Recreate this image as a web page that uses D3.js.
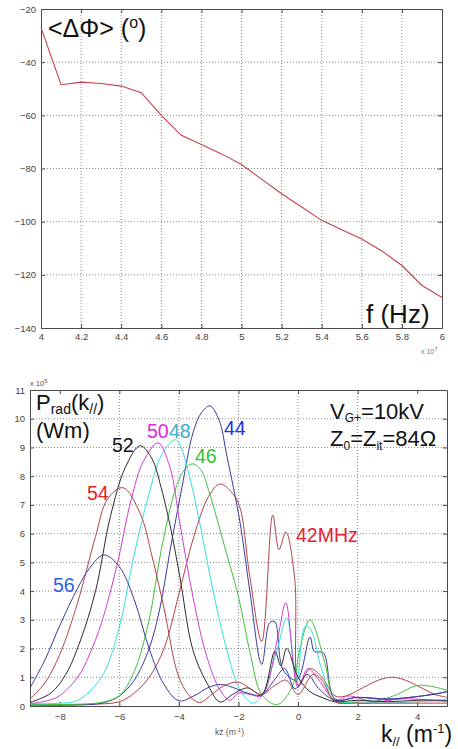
<!DOCTYPE html>
<html>
<head>
<meta charset="utf-8">
<script src="https://cdn.jsdelivr.net/npm/d3@7"></script>
<style>
  body { margin: 0; background: #fff; }
  svg { display: block; font-family: "Liberation Sans", Arial, sans-serif; }
  .tick text { fill: #444; }
</style>
</head>
<body>
<svg id="chart" width="458" height="749"></svg>
<script>
// top panel: mean phase difference vs frequency
var freq = [4.0, 4.1, 4.2, 4.3, 4.4, 4.5, 4.6, 4.7, 4.8, 4.9, 5.0, 5.1, 5.2, 5.3, 5.4, 5.5, 5.6, 5.7, 5.8, 5.9, 6.0];
var phase = [-27, -48.5, -47.5, -48, -49, -51.5, -60, -67.5, -71, -74.5, -78.5, -84, -89.5, -94.5, -99.5, -103, -106.5, -111, -116.5, -124, -128.5];
var topXTicks = [4, 4.2, 4.4, 4.6, 4.8, 5, 5.2, 5.4, 5.6, 5.8, 6];
var topYTicks = [-140, -120, -100, -80, -60, -40, -20];

// bottom panel: radiated power spectrum, one curve per frequency (MHz)
var f42 = [[-9,0.05],[-7,0.06],[-6,0.15],[-5.5,0.45],[-5,1.0],[-4.5,2.0],[-4,3.9],[-3.5,5.9],[-3,7.3],[-2.62,7.73],[-2.2,7.4],[-1.95,6.9],[-1.62,4.5],[-1.22,2.25],[-0.85,6.65],[-0.64,5.44],[-0.41,6.06],[-0.11,4.4],[0.02,0.7],[0.4,1.3],[0.8,1.0],[1.24,0.35],[1.6,0.35],[2.2,0.65],[2.7,0.9],[3.15,1.0],[3.6,0.9],[4.2,0.6],[4.6,0.4],[5,0.3]];
var f44 = [[-9,0.03],[-7,0.05],[-6.5,0.12],[-6,0.35],[-5.5,0.9],[-5,2.0],[-4.64,3.4],[-4.3,5.4],[-3.9,7.6],[-3.53,9.5],[-3.25,10.2],[-2.96,10.45],[-2.65,9.95],[-2.39,8.7],[-1.95,6.4],[-1.62,4.0],[-1.22,1.45],[-0.95,2.9],[-0.78,2.93],[-0.5,1.25],[-0.04,0.9],[0.4,2.4],[0.55,1.9],[0.85,1.85],[1.24,0.25],[2,0.3],[3,0.22],[3.75,0.3],[4.5,0.4],[5,0.5]];
var f46 = [[-9,0.05],[-7,0.08],[-6.5,0.15],[-6,0.35],[-5.5,1.2],[-5,3.0],[-4.6,5.4],[-4.1,7.6],[-3.8,8.25],[-3.53,8.43],[-3.25,8.2],[-3.0,7.5],[-2.4,5.3],[-2.0,3.8],[-1.6,1.8],[-1.22,0.4],[-0.7,0.05],[-0.2,0.66],[0.06,2.0],[0.4,3.0],[0.9,1.5],[1.24,0.2],[1.8,0.12],[2.3,0.1],[3.2,0.35],[4.05,0.72],[5,0.55]];
var f48 = [[-9,0.08],[-8,0.1],[-7.4,0.2],[-6.6,1.0],[-6.0,2.75],[-5.54,5.1],[-5.0,7.4],[-4.6,8.7],[-4.13,9.27],[-3.97,9.1],[-3.6,7.8],[-3.3,6.37],[-2.86,4.04],[-2.39,1.95],[-1.95,0.56],[-1.52,0.1],[-1.22,0.35],[-0.68,2.05],[-0.38,3.07],[-0.04,0.9],[0.23,2.76],[0.4,2.7],[0.8,1.25],[1.24,0.15],[2,0.15],[3,0.1],[4,0.15],[5,0.2]];
var f50 = [[-9,0.08],[-8.1,0.3],[-7.4,1.0],[-7.0,1.8],[-6.6,2.9],[-6.08,4.9],[-5.6,7.2],[-5.2,8.5],[-4.7,9.16],[-4.3,8.3],[-3.97,6.37],[-3.53,3.8],[-3.06,1.7],[-2.62,0.56],[-2.29,0.2],[-2.0,0.45],[-1.6,0.4],[-1.22,0.35],[-0.68,2.4],[-0.41,3.59],[0.0,0.66],[0.33,1.3],[0.7,0.9],[1.24,0.2],[1.7,0.35],[2.5,0.15],[3.5,0.25],[4.5,0.2],[5,0.15]];
var f52 = [[-9,0.12],[-8.3,0.45],[-7.8,1.1],[-7.3,2.3],[-6.8,4.0],[-6.3,6.6],[-5.8,8.3],[-5.3,9.06],[-4.9,8.6],[-4.64,7.77],[-4.3,6.3],[-3.97,4.5],[-3.53,1.95],[-3.06,0.8],[-2.62,0.14],[-2.2,0.4],[-1.7,0.63],[-1.22,0.4],[-0.78,1.9],[-0.58,1.4],[-0.38,2.0],[0.0,1.0],[0.4,0.5],[0.8,0.3],[1.24,0.15],[2,0.2],[3,0.15],[4,0.2],[5,0.2]];
var f54 = [[-9,0.25],[-8.5,0.8],[-8,1.8],[-7.4,3.6],[-6.8,5.9],[-6.4,7.2],[-5.88,7.6],[-5.3,6.7],[-4.9,5.2],[-4.5,3.4],[-4.0,1.0],[-3.6,0.3],[-3.3,0.12],[-2.9,0.4],[-2.5,0.7],[-2.0,0.83],[-1.6,0.6],[-1.22,0.4],[-0.8,0.7],[-0.4,0.9],[0,0.4],[0.5,1.1],[0.8,0.9],[1.24,0.15],[2,0.1],[3,0.1],[4,0.1],[5,0.1]];
var f56 = [[-9,0.63],[-8.5,1.6],[-8,2.8],[-7.4,4.1],[-7,4.8],[-6.52,5.26],[-6,4.85],[-5.5,3.7],[-5,2.0],[-4.5,0.75],[-4,0.18],[-3.5,0.35],[-3,0.65],[-2.6,0.75],[-2.2,0.65],[-1.7,0.45],[-1.22,0.38],[-0.8,0.9],[-0.45,1.3],[-0.1,0.6],[0.3,1.1],[0.7,0.6],[1.24,0.2],[2,0.3],[3,0.25],[3.75,0.3],[4.5,0.4],[5,0.5]];
var botXTicks = [-8, -6, -4, -2, 0, 2, 4];
var botYTicks = [0, 1, 2, 3, 4, 5, 6, 7, 8, 9, 10, 11];

var svg = d3.select('#chart');

var xTop = d3.scaleLinear().domain([4, 6]).range([41, 442]);
var yTop = d3.scaleLinear().domain([-140, -20]).range([328, 9]);
var xBot = d3.scaleLinear().domain([-9, 5]).range([30, 447]);
var yBot = d3.scaleLinear().domain([0, 11]).range([706, 390]);

// matlab style box: dotted grid, inward ticks on all four sides
function drawFrame(x, y, xt, yt, fmtX, fmtY, padX) {
    var x0 = x.range()[0], x1 = x.range()[1];
    var y0 = y.range()[0], y1 = y.range()[1];
    var g = svg.append('g');

    g.append('g').selectAll('line')
        .data(xt.slice(1, -1))
        .enter().append('line')
        .attr('x1', d => x(d)).attr('x2', d => x(d))
        .attr('y1', y0).attr('y2', y1)
        .attr('stroke', '#8a8a8a')
        .attr('stroke-dasharray', '1,2');
    g.append('g').selectAll('line')
        .data(yt.slice(1, -1))
        .enter().append('line')
        .attr('x1', x0).attr('x2', x1)
        .attr('y1', d => y(d)).attr('y2', d => y(d))
        .attr('stroke', '#8a8a8a')
        .attr('stroke-dasharray', '1,2');

    g.append('g').attr('transform', 'translate(0,' + y0 + ')')
        .call(d3.axisBottom(x).tickValues(xt).tickSizeInner(-4).tickSizeOuter(0).tickPadding(padX).tickFormat(fmtX));
    g.append('g').attr('transform', 'translate(0,' + y1 + ')')
        .call(d3.axisTop(x).tickValues(xt).tickSizeInner(-4).tickSizeOuter(0).tickFormat(''));
    g.append('g').attr('transform', 'translate(' + x0 + ',0)')
        .call(d3.axisLeft(y).tickValues(yt).tickSizeInner(-4).tickSizeOuter(0).tickPadding(5).tickFormat(fmtY));
    g.append('g').attr('transform', 'translate(' + x1 + ',0)')
        .call(d3.axisRight(y).tickValues(yt).tickSizeInner(-4).tickSizeOuter(0).tickFormat(''));

    g.selectAll('.domain').attr('stroke', '#4a4a4a');
    g.selectAll('.tick line').attr('stroke', '#4a4a4a');
    g.selectAll('.tick text').attr('font-size', 9.5).attr('font-family', 'Liberation Sans, Arial, sans-serif');
    return g;
}

drawFrame(xTop, yTop, topXTicks, topYTicks, d3.format('~g'), d3.format('d'), 5);

svg.append('path')
    .datum(freq.map((f, i) => [f, phase[i]]))
    .attr('fill', 'none')
    .attr('stroke', '#c4404c')
    .attr('stroke-width', 1.1)
    .attr('d', d3.line().x(d => xTop(d[0])).y(d => yTop(d[1])));

var t1 = svg.append('text').attr('x', 48).attr('y', 37).attr('font-size', 25).attr('fill', '#111');
t1.append('tspan').text('<ΔΦ> (');
t1.append('tspan').attr('font-size', 16).attr('dy', -9).text('o');
t1.append('tspan').attr('dy', 9).text(')');

svg.append('text').attr('x', 366).attr('y', 323).attr('font-size', 26).attr('fill', '#111').text('f (Hz)');

var t7 = svg.append('text').attr('x', 421).attr('y', 354).attr('font-size', 7).attr('fill', '#777');
t7.append('tspan').text('x 10');
t7.append('tspan').attr('dy', -3).attr('font-size', 6).text('7');

// bottom panel
drawFrame(xBot, yBot, botXTicks, botYTicks, d3.format('d'), d3.format('d'), 7);

svg.append('clipPath').attr('id', 'clipBot')
    .append('rect').attr('x', 30).attr('y', 390).attr('width', 417).attr('height', 316);

var series = [
    {name: '42', data: f42, color: '#b3424a'},
    {name: '44', data: f44, color: '#3a3a9e'},
    {name: '46', data: f46, color: '#3cc23c'},
    {name: '48', data: f48, color: '#34e0e0'},
    {name: '50', data: f50, color: '#d23cd2'},
    {name: '52', data: f52, color: '#2a2a2a'},
    {name: '54', data: f54, color: '#b3424a'},
    {name: '56', data: f56, color: '#3a3a9e'}
];

var curve = d3.line()
    .x(d => xBot(d[0]))
    .y(d => yBot(d[1]))
    .curve(d3.curveCatmullRom.alpha(0.5));

svg.append('g').attr('clip-path', 'url(#clipBot)')
    .selectAll('path')
    .data(series)
    .enter().append('path')
    .attr('fill', 'none')
    .attr('stroke', d => d.color)
    .attr('stroke-width', 1)
    .attr('d', d => curve(d.data));

var t5 = svg.append('text').attr('x', 30).attr('y', 386).attr('font-size', 7.5).attr('fill', '#555');
t5.append('tspan').text('x 10');
t5.append('tspan').attr('dy', -3).attr('font-size', 6).text('5');

var tp = svg.append('text').attr('x', 36).attr('y', 410).attr('font-size', 22).attr('fill', '#111');
tp.append('tspan').text('P');
tp.append('tspan').attr('font-size', 14).attr('dy', 4).text('rad');
tp.append('tspan').attr('dy', -4).text('(k');
tp.append('tspan').attr('font-size', 14).attr('dy', 4).text('//');
tp.append('tspan').attr('dy', -4).text(')');
svg.append('text').attr('x', 36).attr('y', 438).attr('font-size', 22).attr('fill', '#111').text('(Wm)');

var tv = svg.append('text').attr('x', 330).attr('y', 419).attr('font-size', 22).attr('fill', '#111');
tv.append('tspan').text('V');
tv.append('tspan').attr('font-size', 12).attr('dy', 3).text('G+');
tv.append('tspan').attr('dy', -3).text('=10kV');
var tz = svg.append('text').attr('x', 330).attr('y', 446).attr('font-size', 22).attr('fill', '#111');
tz.append('tspan').text('Z');
tz.append('tspan').attr('font-size', 12).attr('dy', 4).text('0');
tz.append('tspan').attr('dy', -4).text('=Z');
tz.append('tspan').attr('font-size', 12).attr('dy', 4).text('it');
tz.append('tspan').attr('dy', -4).text('=84Ω');

// frequency labels next to the peaks
var peakLabels = [
    {text: '52', x: 112, y: 452, color: '#111111'},
    {text: '50', x: 147, y: 438, color: '#e024e0'},
    {text: '48', x: 169, y: 438, color: '#44a6c8'},
    {text: '46', x: 195, y: 463, color: '#34c034'},
    {text: '44', x: 224, y: 435, color: '#2230e0'},
    {text: '54', x: 87, y: 500, color: '#e52222'},
    {text: '56', x: 53, y: 592, color: '#2a5ee6'},
    {text: '42MHz', x: 296, y: 542, color: '#e52233'}
];
svg.append('g').selectAll('text')
    .data(peakLabels)
    .enter().append('text')
    .attr('x', d => d.x)
    .attr('y', d => d.y)
    .attr('font-size', 19.5)
    .attr('fill', d => d.color)
    .text(d => d.text);

var tk = svg.append('text').attr('x', 215).attr('y', 735).attr('font-size', 8.5).attr('fill', '#555');
tk.append('tspan').text('kz (m');
tk.append('tspan').attr('dy', -3).attr('font-size', 6).text('-1');
tk.append('tspan').attr('dy', 3).text(')');

var tb = svg.append('text').attr('x', 381).attr('y', 742).attr('font-size', 23).attr('fill', '#111');
tb.append('tspan').text('k');
tb.append('tspan').attr('font-size', 13).attr('dy', 4).text('//');
tb.append('tspan').attr('dy', -4).text(' (m');
tb.append('tspan').attr('font-size', 13).attr('dy', -9).text('-1');
tb.append('tspan').attr('dy', 9).text(')');
</script>
</body>
</html>
